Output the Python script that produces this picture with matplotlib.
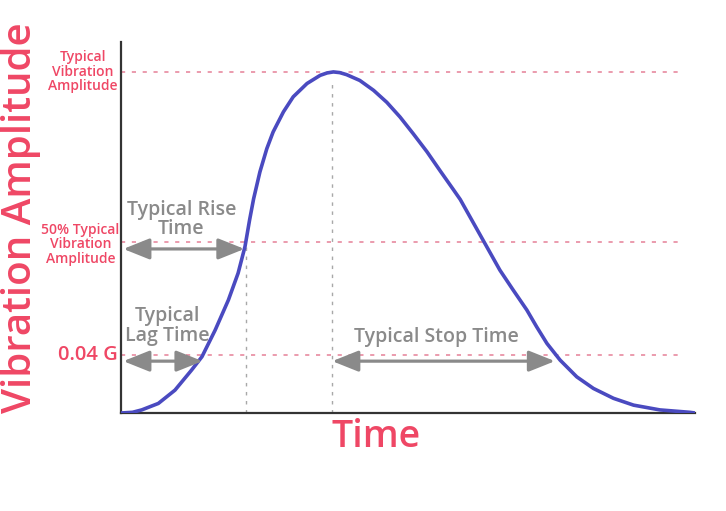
import matplotlib
matplotlib.use('Agg')
import matplotlib.pyplot as plt

plt.rcParams['font.family'] = ['Open Sans', 'DejaVu Sans']

# curve (time in %, amplitude relative to peak)
time = [0, 2.0, 3.6, 6.5, 9.4, 12.3, 14.1, 16.4, 18.7, 20.4, 21.6, 22.4, 23.1,
        24.2, 25.4, 26.5, 28.3, 30.0, 32.4, 34.7, 35.9, 37.0, 38.1, 39.3, 41.6,
        44.0, 46.3, 48.6, 50.9, 53.3, 55.6, 57.9, 59.1, 61.4, 63.7, 66.0, 68.3,
        70.7, 72.4, 74.2, 76.5, 79.4, 82.3, 85.8, 89.3, 93.9, 99.1, 100]
amplitude = [0, 0.002, 0.009, 0.028, 0.067, 0.126, 0.165, 0.243, 0.331, 0.41,
             0.488, 0.566, 0.628, 0.707, 0.775, 0.824, 0.883, 0.927, 0.966, 0.990,
             0.997, 1.0, 0.998, 0.992, 0.975, 0.946, 0.911, 0.868, 0.819, 0.766,
             0.710, 0.655, 0.626, 0.557, 0.488, 0.419, 0.361, 0.302, 0.253, 0.204,
             0.155, 0.106, 0.072, 0.043, 0.023, 0.009, 0.002, 0]

levels = [1.0, 0.5, 0.17]
level_labels = ['Typical\nVibration\nAmplitude', '50% Typical\nVibration\nAmplitude']
lag_end = 14.2
rise_end = 21.5
peak_t = 36.8
stop_end = 75.6

pink = '#ef4765'
gray = '#8a8a8a'

fig = plt.figure(figsize=(7.26, 5.11), dpi=100)
ax = fig.add_axes([0.1667, 0.1918, 0.7906, 0.7262])

# dotted guide lines
for lv in levels:
    ax.plot([0, 97.4], [lv, lv], color='#e88aa0', lw=1.2, ls=(0, (2.5, 4)), zorder=1)
ax.plot([rise_end + 0.3, rise_end + 0.3], [0, 0.5], color='#a8a8a8', lw=1.0, ls=(0, (2.5, 4)), zorder=1)
ax.plot([peak_t, peak_t], [0, 0.98], color='#a8a8a8', lw=1.0, ls=(0, (2.5, 4)), zorder=1)

ax.plot(time, amplitude, color='#4a4ac0', lw=2.6, solid_joinstyle='round', zorder=3)

# arrows
arrow = dict(arrowstyle='<|-|>,head_length=0.8,head_width=0.32', color=gray,
             lw=2.3, mutation_scale=20, shrinkA=0, shrinkB=0)
ax.annotate('', xy=(0.4, 0.481), xytext=(rise_end, 0.481), arrowprops=arrow)
ax.annotate('', xy=(0.4, 0.152), xytext=(lag_end, 0.152), arrowprops=arrow)
ax.annotate('', xy=(peak_t, 0.152), xytext=(stop_end, 0.152), arrowprops=arrow)

ax.text(10.5, 0.567, 'Typical Rise\nTime', color=gray, fontsize=14, ha='center',
        va='center', linespacing=0.95, fontweight='semibold')
ax.text(8.0, 0.255, 'Typical\nLag Time', color=gray, fontsize=14, ha='center',
        va='center', linespacing=0.95, fontweight='semibold')
ax.text(55.0, 0.222, 'Typical Stop Time', color=gray, fontsize=14, ha='center',
        va='center', fontweight='semibold')

# left labels
ax.text(-6.6, levels[0], level_labels[0], color=pink, fontsize=10, ha='center',
        va='center', linespacing=1.05, clip_on=False, fontweight='semibold')
ax.text(-7.1, 0.495, level_labels[1], color=pink, fontsize=10, ha='center',
        va='center', linespacing=1.05, clip_on=False, fontweight='semibold')
ax.text(-0.5, levels[2], '0.04 G', color=pink, fontsize=14.5, ha='right',
        va='center', clip_on=False, fontweight='semibold')

ax.set_xlim(0, 100)
ax.set_ylim(0, 1.088)
ax.set_xticks([])
ax.set_yticks([])
for s in ['top', 'right']:
    ax.spines[s].set_visible(False)
for s in ['left', 'bottom']:
    ax.spines[s].set_color('#333333')
    ax.spines[s].set_linewidth(1.6)

fig.text(376 / 726, 1 - 437 / 511, 'Time', color=pink, fontsize=27, ha='center',
         va='center', fontweight='semibold')
fig.text(21 / 726, 1 - 218 / 511, 'Vibration Amplitude', color=pink, fontsize=29,
         rotation=90, ha='center', va='center', fontweight='semibold')

fig.savefig('out.png', dpi=100)
